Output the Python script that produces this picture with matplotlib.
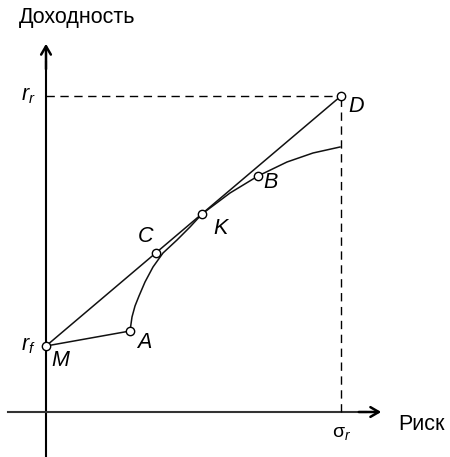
import matplotlib.pyplot as plt

plt.rcParams['font.family'] = ['Liberation Sans', 'DejaVu Sans']
plt.rcParams['mathtext.fontset'] = 'custom'
plt.rcParams['mathtext.it'] = 'Liberation Sans:italic'
plt.rcParams['mathtext.rm'] = 'Liberation Sans'

# risk-free rate, market (risky) point
r_f = 66
sigma_r = 295
r_r = 316

# efficient frontier from A through K and B
frontier_x = [84, 86, 89, 93, 99, 107, 117, 131, 144, 156, 184, 212, 241, 267, 294]
frontier_y = [81, 95, 106, 116, 130, 145, 159, 172, 185, 198, 219, 236, 250, 259, 265]

# named points
pt_names = ['M', 'A', 'C', 'K', 'B', 'D']
pt_x = [0, 84, 110, 156, 212, 295]
pt_y = [66, 81, 159, 198, 236, 316]

fig = plt.figure(figsize=(4.5, 4.57), dpi=100)
ax = fig.add_axes([0, 0, 1, 1])
ax.set_xlim(-46, 404)
ax.set_ylim(-45, 412)
ax.axis('off')

# axes with arrows
ax.plot([0, 0], [-45, 350], color='black', lw=1.5)
ax.annotate('', xy=(0, 371), xytext=(0, 340),
            arrowprops=dict(arrowstyle='->,head_length=0.6,head_width=0.35', lw=1.8, color='black'))
ax.plot([-38, 320], [0, 0], color='#333333', lw=1.5)
ax.annotate('', xy=(338, 0), xytext=(310, 0),
            arrowprops=dict(arrowstyle='->,head_length=0.6,head_width=0.35', lw=1.8, color='black'))

# dashed guides
ax.plot([0, sigma_r], [r_r, r_r], color='black', lw=1, dashes=(6, 4))
ax.plot([sigma_r, sigma_r], [0, r_r], color='black', lw=1, dashes=(6, 4))

# capital market line M -> D
ax.plot([pt_x[0], pt_x[5]], [pt_y[0], pt_y[5]], color='#111111', lw=1.1)
# M -> A
ax.plot([pt_x[0], pt_x[1]], [pt_y[0], pt_y[1]], color='#111111', lw=1.1)
# frontier
ax.plot(frontier_x, frontier_y, color='#111111', lw=1.1)

ax.plot(pt_x, pt_y, 'o', ms=6, mfc='white', mec='black', mew=1, zorder=5)

offsets = {'M': (14, -14), 'A': (14, -11), 'C': (-10, 17), 'K': (19, -14),
           'B': (13, -7), 'D': (15, -11)}
for n, x, y in zip(pt_names, pt_x, pt_y):
    dx, dy = offsets[n]
    ax.text(x + dx, y + dy, n, fontsize=15.5, style='italic', ha='center', va='center')

ax.text(-18, r_r, r'$r_r$', fontsize=15.5, ha='center', va='center')
ax.text(-18, r_f, r'$r_f$', fontsize=15.5, ha='center', va='center')
ax.text(sigma_r + 1, -21, r'$\mathrm{\sigma}_r$', fontsize=14, ha='center', va='center')
ax.text(-27, 394, 'Доходность', fontsize=15.5, ha='left', va='center')
ax.text(352, -12, 'Риск', fontsize=15.5, ha='left', va='center')

fig.savefig('out.png', dpi=100)
